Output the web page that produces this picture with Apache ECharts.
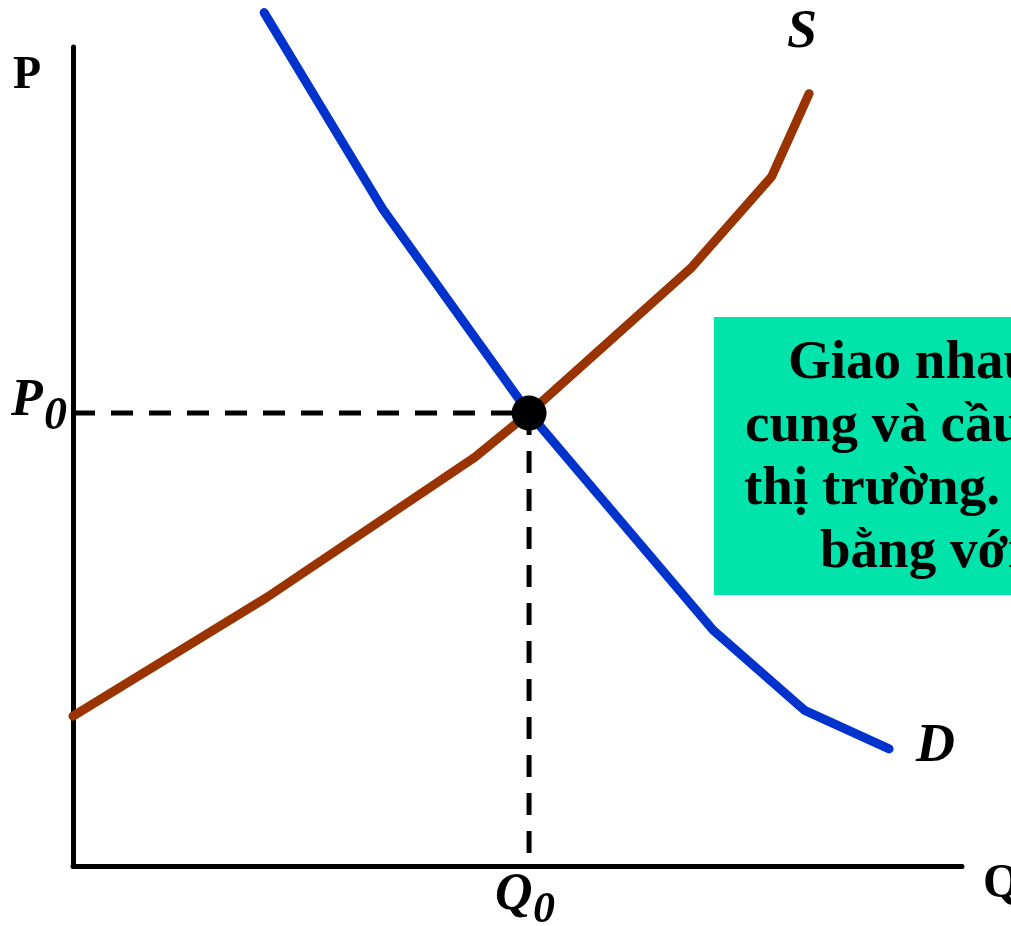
<!DOCTYPE html>
<html>
<head>
<meta charset="utf-8">
<script src="https://cdn.jsdelivr.net/npm/echarts@6/dist/echarts.min.js"></script>
<style>
	html, body { margin: 0; padding: 0; background: #fff; }
	#main { width: 1011px; height: 926px; }
</style>
</head>
<body>
<div id="main"></div>
<script>
// Cung (S) va cau (D), don vi tuy y
var demandQ = [2.15, 3.49, 5.13, 7.20, 8.23, 9.18];
var demandP = [10.42, 8.01, 5.53, 2.88, 1.90, 1.43];
var supplyQ = [0, 2.18, 4.52, 5.13, 6.96, 7.86, 8.28];
var supplyP = [1.83, 3.28, 4.99, 5.53, 7.31, 8.42, 9.43];
var eqQ = 5.13;
var eqP = 5.53;
var boxLines = ['Giao nhau', 'cung và cầu', 'thị trường.', 'bằng với'];

function pairs(xs, ys) {
	var out = [];
	for (var i = 0; i < xs.length; i++) {
		out.push([xs[i], ys[i]]);
	}
	return out;
}

var serif = '"Liberation Serif", "Times New Roman", serif';

function label(text, x, y, size, italic) {
	return {
		type: 'text',
		left: x,
		top: y,
		style: {
			text: text,
			font: (italic ? 'italic ' : '') + 'bold ' + size + 'px ' + serif,
			fill: '#000'
		},
		z: 20
	};
}

var myChart = echarts.init(document.getElementById('main'));

var graphics = [
	{
		type: 'rect',
		shape: { x: 714, y: 317, width: 400, height: 278 },
		style: { fill: '#00E3AA' },
		z: 5
	}
];
var boxLeft = [788, 745, 744, 820];
for (var i = 0; i < boxLines.length; i++) {
	graphics.push(label(boxLines[i], boxLeft[i], 336 + i * 63, 55, false));
}
graphics.push(label('P', 13, 53, 46, false));
graphics.push(label('Q', 983, 861, 48, false));
graphics.push(label('S', 787, 6, 54, true));
graphics.push(label('D', 916, 720, 54, true));
graphics.push(label('P', 11, 376, 52, true));
graphics.push(label('0', 44, 394, 46, true));
graphics.push(label('Q', 495, 870, 52, true));
graphics.push(label('0', 533, 889, 44, true));

var option = {
	animation: false,
	grid: { left: 73, right: 49, top: 47, bottom: 60 },
	xAxis: {
		type: 'value',
		min: 0,
		max: 10,
		axisLine: { show: true, lineStyle: { color: '#000', width: 5 } },
		axisTick: { show: false },
		axisLabel: { show: false },
		splitLine: { show: false }
	},
	yAxis: {
		type: 'value',
		min: 0,
		max: 10,
		axisLine: { show: true, lineStyle: { color: '#000', width: 5 } },
		axisTick: { show: false },
		axisLabel: { show: false },
		splitLine: { show: false }
	},
	graphic: graphics,
	series: [
		{
			name: 'P0-Q0',
			type: 'line',
			data: [[0, eqP], [eqQ, eqP], [eqQ, 0]],
			symbol: 'none',
			lineStyle: { color: '#000', width: 5, type: [22, 16] },
			z: 2
		},
		{
			name: 'S',
			type: 'line',
			data: pairs(supplyQ, supplyP),
			symbol: 'none',
			clip: false,
			lineStyle: { color: '#993300', width: 9, cap: 'round', join: 'round' },
			z: 3
		},
		{
			name: 'D',
			type: 'line',
			data: pairs(demandQ, demandP),
			symbol: 'none',
			clip: false,
			lineStyle: { color: '#0033CC', width: 9, cap: 'round', join: 'round' },
			z: 4
		},
		{
			name: 'E',
			type: 'scatter',
			data: [[eqQ, eqP]],
			symbolSize: 35,
			itemStyle: { color: '#000', opacity: 1 },
			z: 6
		}
	]
};
myChart.setOption(option);
</script>
</body>
</html>
